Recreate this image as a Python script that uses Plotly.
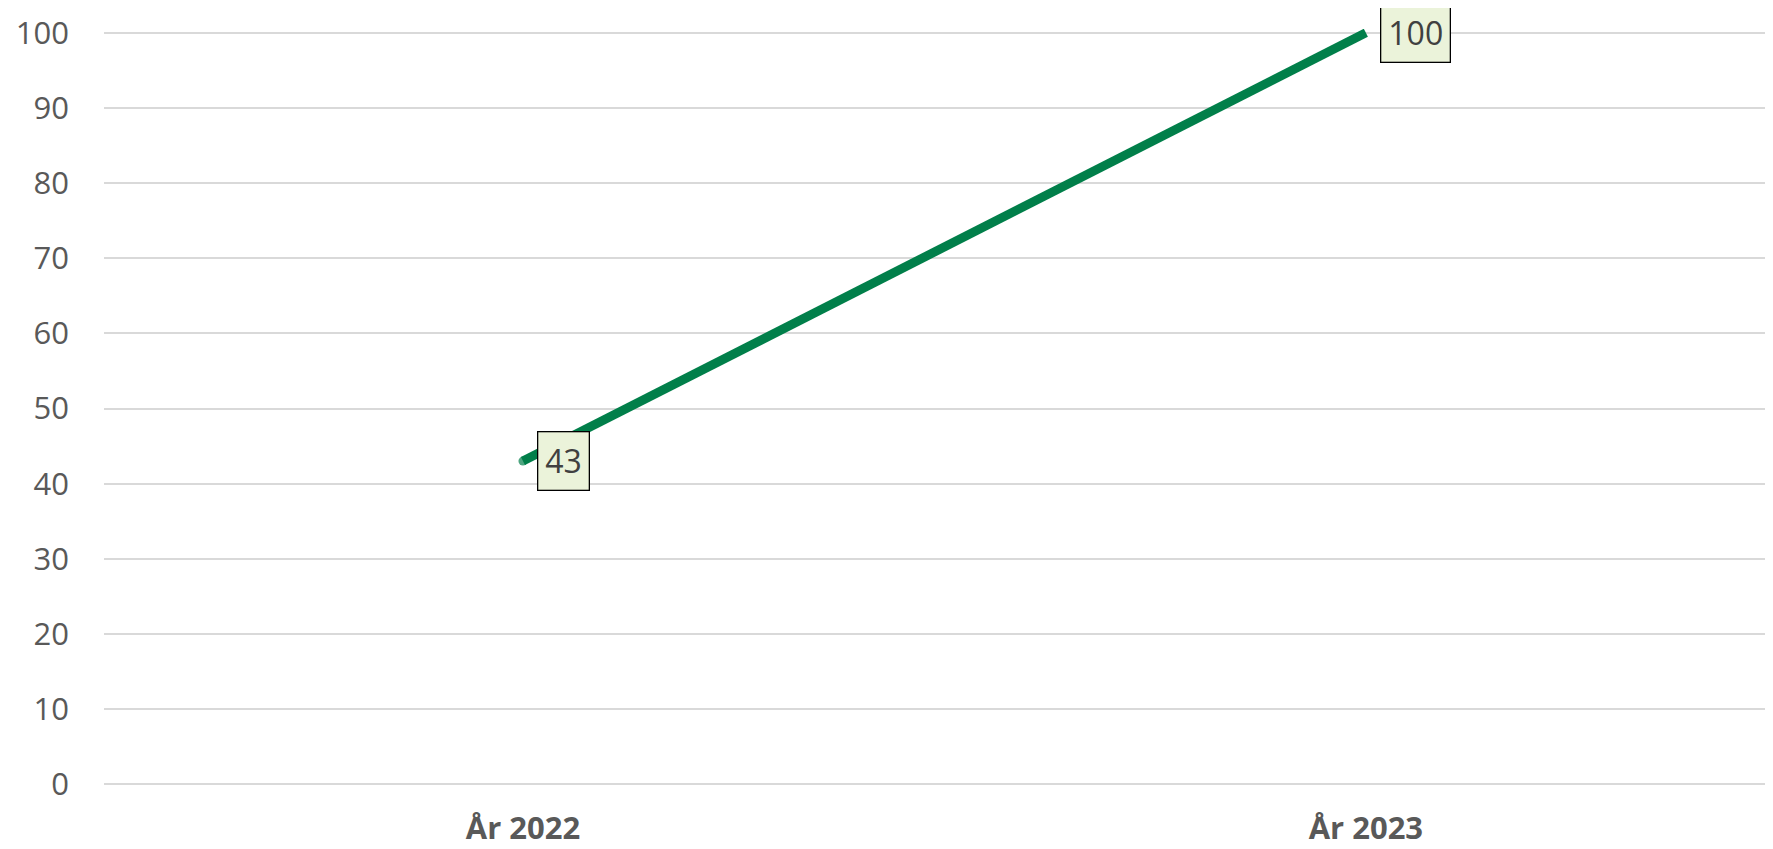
import plotly.graph_objects as go

categories = ["År 2022", "År 2023"]
values = [43, 100]
y_ticks = [0, 10, 20, 30, 40, 50, 60, 70, 80, 90, 100]

# The page body has a default 8px margin, so the figure is sized to fit inside it.
W, H = 1765, 841
FONT = "Open Sans"

fig = go.Figure()
fig.add_trace(go.Scatter(
    x=categories, y=values, mode="lines+markers",
    line=dict(color="#017F4A", width=9),
    marker=dict(color="#017F4A", size=[9, 0], line=dict(width=0)),
    cliponaxis=False, hoverinfo="skip", showlegend=False,
))

for c, v in zip(categories, values):
    fig.add_annotation(
        x=c, y=v, text=str(v), showarrow=False,
        xanchor="left", yanchor="middle", xshift=14,
        font=dict(family=FONT, size=32, color="#404040"),
        bgcolor="#EBF3DA", bordercolor="#000000", borderwidth=1.3, borderpad=7,
    )

fig.update_layout(
    width=W, height=H,
    margin=dict(l=96, r=0, t=21, b=61),
    plot_bgcolor="white", paper_bgcolor="white",
    font=dict(family=FONT, size=31, color="#595959"),
    xaxis=dict(
        type="category", range=[-0.497, 1.483], automargin=False,
        showgrid=False, zeroline=False, showline=False, ticks="",
        tickfont=dict(family=FONT, size=31, color="#595959", weight="bold"),
        ticklabelstandoff=19,
    ),
    yaxis=dict(
        range=[-0.5, 100.5], tickvals=y_ticks, automargin=False,
        showgrid=True, gridcolor="#D9D9D9", gridwidth=2,
        zeroline=False, showline=False, ticks="",
        tickfont=dict(family=FONT, size=31, color="#595959"),
        ticklabelstandoff=34,
    ),
)

fig.write_html("out.html")
